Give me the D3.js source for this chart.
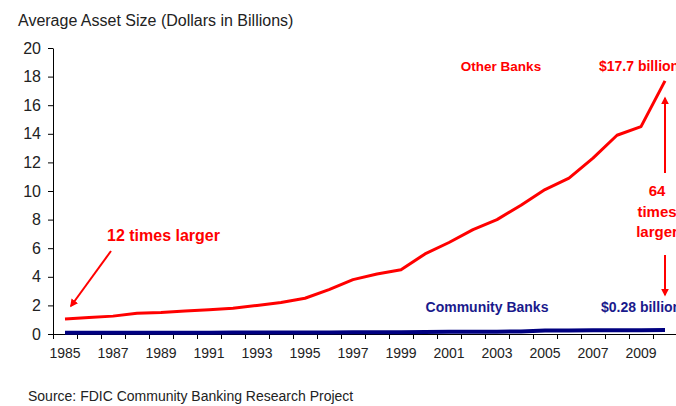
<!DOCTYPE html>
<html>
<head>
<meta charset="utf-8">
<script src="https://cdn.jsdelivr.net/npm/d3@7"></script>
<style>
  body { margin: 0; background: #fff; }
  svg { display: block; font-family: "Liberation Sans", Arial, sans-serif; }
  .axis path, .axis line { stroke: #000; }
  .axis text { fill: #222; }
</style>
</head>
<body>
<div id="chart"></div>
<script>
const years = d3.range(1985, 2011)
const otherBanks = [1.05, 1.15, 1.25, 1.45, 1.5, 1.6, 1.7, 1.8, 2.0, 2.2, 2.5, 3.1, 3.8, 4.2, 4.5, 5.6, 6.4, 7.3, 8.0, 9.0, 10.1, 10.9, 12.3, 13.9, 14.5, 17.7]
const communityBanks = [0.08, 0.08, 0.08, 0.09, 0.09, 0.09, 0.09, 0.1, 0.1, 0.1, 0.11, 0.11, 0.12, 0.13, 0.13, 0.14, 0.15, 0.15, 0.16, 0.18, 0.24, 0.25, 0.26, 0.27, 0.27, 0.28]
const yTicks = d3.range(0, 21, 2)
const xLabels = d3.range(1985, 2011, 2)

const width = 676
const height = 406

const svg = d3.select('#chart')
    .append('svg')
    .attr('width', width)
    .attr('height', height)

const x = d3.scaleBand()
    .domain(years)
    .range([53, 677])

// boundaries between categories, used for tick marks
const xEdge = d3.scaleLinear()
    .domain([1985, 2011])
    .range([53, 677])

const y = d3.scaleLinear()
    .domain([0, 20])
    .range([334, 48])

svg.append('text')
    .attr('x', 18)
    .attr('y', 26)
    .attr('fill', '#222')
    .style('font-size', '16px')
    .text('Average Asset Size (Dollars in Billions)')

const ya = svg.append('g').attr('class', 'axis')
    .attr('transform', 'translate(53,0)')
    .call(d3.axisLeft(y).tickValues(yTicks).tickSize(5).tickSizeOuter(0).tickPadding(7))
ya.selectAll('text').style('font-size', '16px')

svg.append('g').attr('class', 'axis')
    .attr('transform', 'translate(0,334)')
    .call(d3.axisBottom(xEdge).tickValues(d3.range(1985, 2012)).tickSize(5).tickSizeOuter(0).tickFormat(''))

const xl = svg.append('g').attr('class', 'axis')
    .attr('transform', 'translate(0,334)')
    .call(d3.axisBottom(x).tickValues(xLabels).tickSize(0).tickPadding(14))
xl.select('.domain').remove()
xl.selectAll('text').style('font-size', '14px')

const cx = d => x(d) + x.bandwidth() / 2

svg.append('path')
    .datum(years)
    .attr('fill', 'none')
    .attr('stroke', '#000080')
    .attr('stroke-width', 4)
    .attr('d', d3.line().x(d => cx(d)).y((d, i) => y(communityBanks[i])))

svg.append('path')
    .datum(years)
    .attr('fill', 'none')
    .attr('stroke', '#ff0000')
    .attr('stroke-width', 3)
    .attr('stroke-linejoin', 'round')
    .attr('d', d3.line().x(d => cx(d)).y((d, i) => y(otherBanks[i])))

// arrow markers
svg.append('defs').append('marker')
    .attr('id', 'head')
    .attr('viewBox', '0 0 10 10')
    .attr('refX', 8)
    .attr('refY', 5)
    .attr('markerWidth', 4)
    .attr('markerHeight', 4)
    .attr('orient', 'auto')
    .append('path')
    .attr('d', 'M0,0 L10,5 L0,10 Z')
    .attr('fill', '#ff0000')

const red = '#ff0000'
const navy = '#1a1a8c'

function label(txt, lx, ly, color, size, anchor) {
    svg.append('text')
        .attr('x', lx)
        .attr('y', ly)
        .attr('fill', color)
        .attr('text-anchor', anchor || 'start')
        .style('font-size', size + 'px')
        .style('font-weight', 'bold')
        .text(txt)
}

label('Other Banks', 501, 71, red, 13.5, 'middle')
label('$17.7 billion', 599, 71, red, 14)
label('64', 657, 196, red, 15, 'middle')
label('times', 657, 217, red, 15, 'middle')
label('larger', 657, 237, red, 15, 'middle')
label('Community Banks', 487, 312, navy, 14, 'middle')
label('$0.28 billion', 601, 312, navy, 14)
label('12 times larger', 107, 241, red, 16)

svg.append('line')
    .attr('x1', 111).attr('y1', 251)
    .attr('x2', 71).attr('y2', 306)
    .attr('stroke', red).attr('stroke-width', 2)
    .attr('marker-end', 'url(#head)')

svg.append('line')
    .attr('x1', cx(2010)).attr('y1', 173)
    .attr('x2', cx(2010)).attr('y2', 98)
    .attr('stroke', red).attr('stroke-width', 2)
    .attr('marker-end', 'url(#head)')

svg.append('line')
    .attr('x1', cx(2010)).attr('y1', 255)
    .attr('x2', cx(2010)).attr('y2', 295)
    .attr('stroke', red).attr('stroke-width', 2)
    .attr('marker-end', 'url(#head)')

svg.append('text')
    .attr('x', 28)
    .attr('y', 401)
    .attr('fill', '#222')
    .style('font-size', '14px')
    .text('Source: FDIC Community Banking Research Project')
</script>
</body>
</html>
